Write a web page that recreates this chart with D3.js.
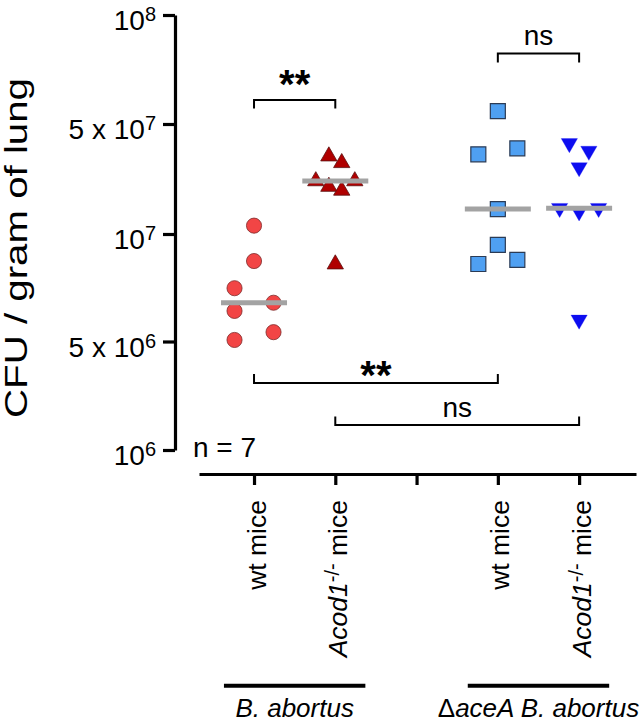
<!DOCTYPE html>
<html>
<head>
<meta charset="utf-8">
<script src="https://cdn.jsdelivr.net/npm/d3@7"></script>
<style>
  html, body { margin: 0; padding: 0; background: #fff; }
  svg { display: block; font-family: "Liberation Sans", Arial, Helvetica, sans-serif; }
</style>
</head>
<body>
<svg id="chart" width="641" height="722"></svg>
<script>
// ---------- data ----------
const categoryPositions = [1, 2, 4, 5];
const tickPositions = [1, 2, 3, 4, 5];
const categoryLabels = ["wt mice", "Acod1-/- mice", "wt mice", "Acod1-/- mice"];
const groupLabels = ["B. abortus", "\u0394aceA B. abortus"];

// CFU / gram of lung
const wtBabortus      = [1.13e7, 8.40e6, 7.05e6, 6.09e6, 5.05e6, 6.42e6, 5.31e6];
const acod1Babortus   = [3.12e7, 2.83e7, 2.17e7, 2.00e7, 1.89e7, 2.17e7, 8.23e6];
const wtAceA          = [5.43e7, 3.21e7, 3.50e7, 1.44e7, 9.32e6, 8.24e6, 8.46e6];
const acod1AceA       = [3.77e7, 3.37e7, 2.65e7, 1.46e7, 1.39e7, 1.46e7, 5.75e6];

// scatter column slot of each point (horizontal spread)
const wtBabortusSlot    = [0, 0, -1, -1, -1, 1, 1];
const acod1BabortusSlot = [-0.33, 0.33, -1, -0.33, 0.33, 1, 0];
const wtAceASlot        = [0, -1, 1, 0, 0, -1, 1];
const acod1AceASlot     = [-0.5, 0.5, 0, -1, 0, 1, 0];

const yTickValues = [1e6, 5e6, 1e7, 5e7, 1e8];
const yTickMantissa = ["", "5 x ", "", "5 x ", ""];
const yTickExponent = ["6", "6", "7", "7", "8"];

const comparisons = [
  { a: 1, b: 2, label: "**" },
  { a: 4, b: 5, label: "ns" },
  { a: 1, b: 4, label: "**" },
  { a: 2, b: 5, label: "ns" }
];

// ---------- layout ----------
const svg = d3.select("#chart");
const FONT = "'Liberation Sans', Arial, Helvetica, sans-serif";

const x = d3.scaleLinear().domain([0.323, 5.70]).range([199, 636]);
const y = d3.scaleLog().domain(yTickValues).range([450, 341.5, 234, 124, 15]);
const slotWidth = 19.5;

const series = [
  { pos: 1, values: wtBabortus,    slots: wtBabortusSlot,    symbol: d3.symbolCircle,   size: 180, rot: 0,   fill: "#f24545", stroke: "#7d2b2b", sw: 0.8 },
  { pos: 2, values: acod1Babortus, slots: acod1BabortusSlot, symbol: d3.symbolTriangle, size: 115, rot: 0,   fill: "#b00000", stroke: "#5a1010", sw: 0.8 },
  { pos: 4, values: wtAceA,        slots: wtAceASlot,        symbol: d3.symbolSquare,   size: 225, rot: 0,   fill: "#4fa0f2", stroke: "#2b3b55", sw: 1.2 },
  { pos: 5, values: acod1AceA,     slots: acod1AceASlot,     symbol: d3.symbolTriangle, size: 115, rot: 180, fill: "#0d0df0", stroke: "#0d0df0", sw: 0.3 }
];

// ---------- y axis ----------
const yAxis = svg.append("g")
  .attr("transform", "translate(175,0)")
  .call(d3.axisLeft(y).tickValues(yTickValues).tickSize(12).tickSizeOuter(0).tickFormat(() => ""));
yAxis.select(".domain").attr("stroke", "#000").attr("stroke-width", 3.2);
yAxis.selectAll(".tick line").attr("stroke", "#000").attr("stroke-width", 3.2);

const yLab = svg.append("g");
yTickValues.forEach((v, i) => {
  const t = yLab.append("text")
    .attr("x", 156).attr("y", y(v) + 15)
    .attr("text-anchor", "end")
    .style("font-family", FONT).style("font-size", "28px").attr("fill", "#000");
  t.append("tspan").text(yTickMantissa[i] + "10");
  t.append("tspan").attr("dy", -9).style("font-size", "20px").text(yTickExponent[i]);
});

// y title
svg.append("text")
  .attr("transform", "translate(27,248) rotate(-90)")
  .attr("text-anchor", "middle")
  .attr("textLength", 340).attr("lengthAdjust", "spacingAndGlyphs")
  .style("font-family", FONT).style("font-size", "31px")
  .text("CFU / gram of lung");

// ---------- x axis ----------
const xAxis = svg.append("g")
  .attr("transform", "translate(0,474)")
  .call(d3.axisBottom(x).tickValues(tickPositions).tickSize(11).tickSizeOuter(0).tickFormat(() => ""));
xAxis.select(".domain").attr("stroke", "#000").attr("stroke-width", 3.2);
xAxis.selectAll(".tick line").attr("stroke", "#000").attr("stroke-width", 3.2);

// x tick labels (rotated)
categoryLabels.forEach((lab, i) => {
  const g = svg.append("g").attr("transform", `translate(${x(categoryPositions[i])},500) rotate(-90)`);
  const t = g.append("text").attr("x", 0).attr("y", 11.5).attr("text-anchor", "end")
    .style("font-family", FONT).style("font-size", "26.5px");
  if (lab.startsWith("Acod1")) {
    t.append("tspan").style("font-style", "italic").text("Acod1");
    t.append("tspan").attr("dy", -8).style("font-size", "20px").text("-/-");
    t.append("tspan").attr("dy", 8).text(" mice");
  } else {
    t.text(lab);
  }
});

// n = 7
svg.append("text").attr("x", 193).attr("y", 457)
  .style("font-family", FONT).style("font-size", "28px").text("n = 7");

// group bars + labels
const groupsCats = [[1, 2], [4, 5]];
groupsCats.forEach((gc, i) => {
  const c = d3.mean(gc);
  svg.append("line")
    .attr("x1", x(c - 0.87)).attr("x2", x(c + 0.87))
    .attr("y1", 685.7).attr("y2", 685.7)
    .attr("stroke", "#000").attr("stroke-width", 4);
  const t = svg.append("text").attr("x", x(c)).attr("y", 717).attr("text-anchor", "middle")
    .style("font-family", FONT).style("font-size", "26px");
  if (groupLabels[i].startsWith("\u0394")) {
    t.append("tspan").text("\u0394");
    t.append("tspan").style("font-style", "italic").text(groupLabels[i].slice(1));
  } else {
    t.append("tspan").style("font-style", "italic").text(groupLabels[i]);
  }
});

// ---------- points ----------
series.forEach(s => {
  const g = svg.append("g");
  s.values.forEach((v, i) => {
    g.append("path")
      .attr("d", d3.symbol().type(s.symbol).size(s.size)())
      .attr("transform", `translate(${x(s.pos) + s.slots[i] * slotWidth},${y(v)}) rotate(${s.rot})`)
      .attr("fill", s.fill).attr("stroke", s.stroke).attr("stroke-width", s.sw);
  });
});

// median lines
series.forEach(s => {
  const m = d3.median(s.values);
  svg.append("line")
    .attr("x1", x(s.pos) - 33).attr("x2", x(s.pos) + 33)
    .attr("y1", y(m)).attr("y2", y(m))
    .attr("stroke", "#a3a3a3").attr("stroke-width", 5);
});

// ---------- significance brackets ----------
const bracketLayout = [
  { yLine: 100, leg: 8.5,  textY: 98,  font: 40, bold: true },
  { yLine: 53.5, leg: 9,   textY: 45,  font: 28, bold: false },
  { yLine: 383, leg: -9,   textY: 389, font: 40, bold: true },
  { yLine: 425, leg: -8.5, textY: 416.5, font: 28, bold: false }
];
comparisons.forEach((c, i) => {
  const L = bracketLayout[i];
  const x1 = x(c.a), x2 = x(c.b);
  svg.append("path")
    .attr("d", `M${x1},${L.yLine + L.leg}V${L.yLine}H${x2}V${L.yLine + L.leg}`)
    .attr("fill", "none").attr("stroke", "#000").attr("stroke-width", 2);
  svg.append("text")
    .attr("x", (x1 + x2) / 2).attr("y", L.textY)
    .attr("text-anchor", "middle")
    .style("font-family", FONT).style("font-size", L.font + "px")
    .style("font-weight", L.bold ? "bold" : "normal")
    .text(c.label);
});
</script>
</body>
</html>
